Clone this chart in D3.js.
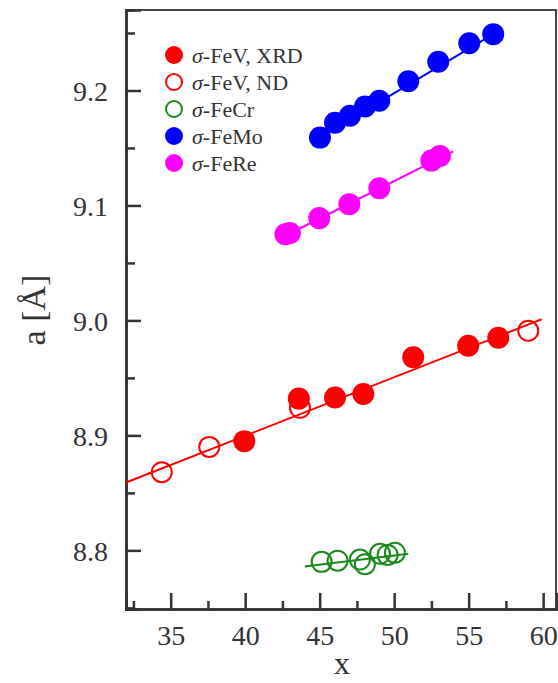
<!DOCTYPE html>
<html><head><meta charset="utf-8">
<script src="https://cdn.jsdelivr.net/npm/d3@7"></script>
<style>body{margin:0;background:#fff}svg{display:block}</style>
</head><body>
<script>
// ---- data ----
const feV_XRD_x = [39.94, 43.6, 46.03, 47.93, 51.28, 54.97, 56.99];
const feV_XRD_y = [8.895, 8.932, 8.933, 8.936, 8.968, 8.978, 8.985];
const feV_ND_x = [34.4, 37.59, 43.68, 59.0];
const feV_ND_y = [8.868, 8.890, 8.924, 8.991];
const feCr_x = [45.13, 46.2, 47.7, 48.04, 49.05, 49.56, 50.05];
const feCr_y = [8.790, 8.791, 8.792, 8.788, 8.797, 8.796, 8.798];
const feMo_x = [45.02, 46.03, 47.03, 48.04, 49.0, 50.95, 52.96, 55.04, 56.65];
const feMo_y = [9.159, 9.172, 9.178, 9.186, 9.191, 9.208, 9.225, 9.241, 9.249];
const feRe_x = [42.7, 43.0, 44.97, 46.99, 49.0, 52.5, 53.07];
const feRe_y = [9.075, 9.076, 9.089, 9.101, 9.115, 9.139, 9.143];
// fit line end points [x, y]
const fitFeV = [[32.0, 8.859], [59.9, 9.001]];
const fitFeCr = [[44.0, 8.786], [50.95, 8.797]];
const fitFeMo = [[45.0, 9.159], [56.65, 9.249]];
const fitFeRe = [[42.6, 9.073], [53.97, 9.147]];
const xTicks = [35, 40, 45, 50, 55, 60];
const xMinor = [32.5, 37.5, 42.5, 47.5, 52.5, 57.5];
const yTicks = [8.8, 8.9, 9.0, 9.1, 9.2];
const yMinor = [8.75, 8.85, 8.95, 9.05, 9.15, 9.25];
const legendLabels = ["-FeV, XRD", "-FeV, ND", "-FeCr", "-FeMo", "-FeRe"];
const colors = {red: "#ff0000", green: "#1a8a1a", blue: "#0000ff", magenta: "#ff00ff"};

const W = 558, H = 683;
const svg = d3.select("body").append("svg").attr("width", W).attr("height", H);
const x = d3.scaleLinear().domain([32, 60.93]).range([126, 557]);
const y = d3.scaleLinear().domain([8.749, 9.27]).range([609, 10]);
const font = "'Liberation Serif', 'DejaVu Serif', serif";
const axisCol = "#333";

// frame (top/right)
svg.append("line").attr("x1", 126).attr("x2", 557).attr("y1", 10).attr("y2", 10).attr("stroke", "#444").attr("stroke-width", 2);
svg.append("line").attr("x1", 556).attr("x2", 556).attr("y1", 10).attr("y2", 609).attr("stroke", "#444").attr("stroke-width", 2);

// axes with inward ticks
const gx = svg.append("g").attr("transform", "translate(0,609)");
gx.call(d3.axisBottom(x).tickValues(xTicks).tickSize(-16).tickFormat(d3.format("d")).tickPadding(22));
const gxm = svg.append("g").attr("transform", "translate(0,609)");
gxm.call(d3.axisBottom(x).tickValues(xMinor).tickSize(-8).tickFormat(""));
const gy = svg.append("g").attr("transform", "translate(126,0)");
gy.call(d3.axisLeft(y).tickValues(yTicks).tickSize(-15).tickFormat(d3.format(".1f")).tickPadding(18));
const gym = svg.append("g").attr("transform", "translate(126,0)");
gym.call(d3.axisLeft(y).tickValues(yMinor).tickSize(-9).tickFormat(""));
[gx, gxm, gy, gym].forEach(g => {
  g.select(".domain").attr("stroke", axisCol).attr("stroke-width", 2.5);
  g.selectAll(".tick line").attr("stroke", axisCol).attr("stroke-width", 2.5);
  g.selectAll(".tick text").attr("fill", "#333").style("font-family", font).style("font-size", "28px");
});
gx.selectAll(".tick text").attr("dy", "0.5em");
gy.selectAll(".tick text").attr("dy", "0.35em");

// titles
svg.append("text").attr("x", 342).attr("y", 674).attr("text-anchor", "middle")
  .style("font-family", font).style("font-size", "32px").attr("fill", "#333").text("x");
svg.append("text").attr("transform", "translate(45,310) rotate(-90)").attr("text-anchor", "middle")
  .style("font-family", font).style("font-size", "34px").attr("fill", "#333").text("a [Å]");

// fit lines
const line = d3.line().x(d => x(d[0])).y(d => y(d[1]));
[[fitFeV, colors.red], [fitFeCr, colors.green], [fitFeMo, colors.blue], [fitFeRe, colors.magenta]].forEach(([pts, c]) => {
  svg.append("path").attr("d", line(pts)).attr("stroke", c).attr("stroke-width", 2).attr("fill", "none");
});

function pts(xs, ys, c, filled) {
  svg.append("g").selectAll("circle").data(xs.map((v, i) => [v, ys[i]])).join("circle")
    .attr("cx", d => x(d[0])).attr("cy", d => y(d[1]))
    .attr("r", filled ? 11 : 10)
    .attr("fill", filled ? c : "none")
    .attr("stroke", c).attr("stroke-width", filled ? 0 : 2);
}
pts(feCr_x, feCr_y, colors.green, false);
pts(feV_ND_x, feV_ND_y, colors.red, false);
pts(feV_XRD_x, feV_XRD_y, colors.red, true);
pts(feMo_x, feMo_y, colors.blue, true);
pts(feRe_x, feRe_y, colors.magenta, true);

// legend
const legendStyle = [[colors.red, true], [colors.red, false], [colors.green, false], [colors.blue, true], [colors.magenta, true]];
legendLabels.forEach((lab, i) => {
  const cy = 55 + i * 27;
  const [c, f] = legendStyle[i];
  svg.append("circle").attr("cx", 174).attr("cy", cy).attr("r", f ? 9 : 8)
    .attr("fill", f ? c : "none").attr("stroke", c).attr("stroke-width", f ? 0 : 2);
  const t = svg.append("text").attr("x", 192).attr("y", cy).attr("dy", "0.35em")
    .style("font-family", font).style("font-size", "22px").attr("fill", "#333");
  t.append("tspan").style("font-style", "italic").text("σ");
  t.append("tspan").text(lab);
});
</script>
</body></html>
